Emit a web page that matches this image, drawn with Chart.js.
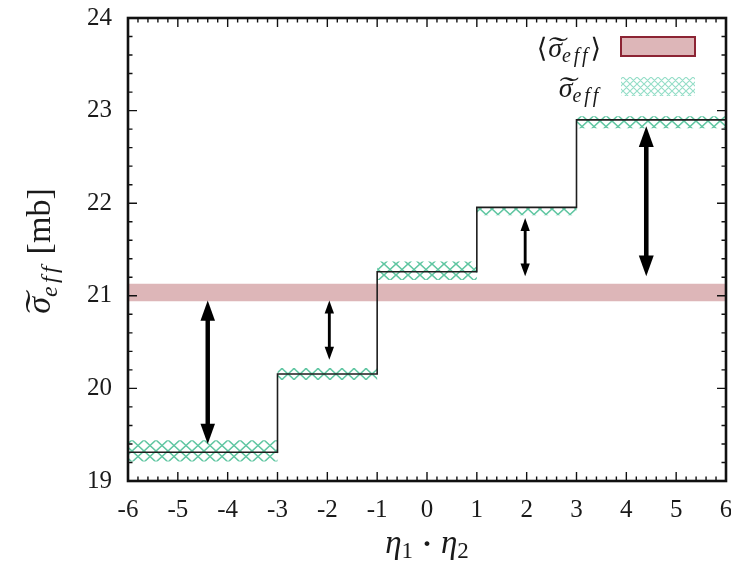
<!DOCTYPE html>
<html>
<head>
<meta charset="utf-8">
<script src="https://cdn.jsdelivr.net/npm/chart.js@4/dist/chart.umd.min.js"></script>
<style>
  html, body { margin: 0; padding: 0; background: #ffffff; }
  canvas { display: block; }
</style>
</head>
<body>
<canvas id="c" width="731" height="567"></canvas>
<script>
// Bin edges in eta1*eta2 and the effective cross-section per bin (mb)
const binEdges = [-6, -3, -1, 1, 3, 6];
const sigmaEff = [19.31, 20.155, 21.26, 21.955, 22.90];
const sigmaEffHigh = [19.44, 20.22, 21.37, 21.96, 22.94];
const sigmaEffLow = [19.21, 20.09, 21.17, 21.87, 22.81];

// Band of the averaged value <sigma_eff>
const meanBandLow = 20.94;
const meanBandHigh = 21.13;

// Double-headed arrows: x position, upper and lower ends
const arrowX = [-4.4, -1.96, 1.97, 4.4];
const arrowTop = [20.95, 20.95, 21.84, 22.83];
const arrowBottom = [19.40, 20.31, 21.21, 21.21];

// Tick labels
const xTicks = [-6, -5, -4, -3, -2, -1, 0, 1, 2, 3, 4, 5, 6];
const yTicks = [19, 20, 21, 22, 23, 24];

const SERIF = "'Liberation Serif', 'DejaVu Serif', serif";
const GREEN = 'rgb(96, 198, 162)';
const PALEGREEN = 'rgb(150, 222, 200)';
const PINK = 'rgb(221, 182, 184)';
const DARKRED = 'rgb(140, 36, 52)';

// step series: each value holds from its edge to the next edge
function steps(vals) {
  return binEdges.map((x, i) => ({ x: x, y: vals[Math.min(i, vals.length - 1)] }));
}

function makeHatch(ctx, w, h, color, lw) {
  const p = document.createElement('canvas');
  p.width = w; p.height = h;
  const g = p.getContext('2d');
  g.strokeStyle = color;
  g.lineWidth = lw;
  g.beginPath();
  g.moveTo(0, 0); g.lineTo(w / 2, h / 2); g.lineTo(w, 0);
  g.moveTo(0, h); g.lineTo(w / 2, h / 2); g.lineTo(w, h);
  g.stroke();
  return ctx.createPattern(p, 'repeat');
}

const canvas = document.getElementById('c');
const ctx0 = canvas.getContext('2d');
const hatch = makeHatch(ctx0, 12, 11, GREEN, 1.6);
const legendHatch = makeHatch(ctx0, 7, 7, PALEGREEN, 1.1);

// Draws a sequence of text pieces (main / subscript / tilde accent) on one baseline
function runWidth(ctx, parts) {
  let w = 0;
  for (const p of parts) {
    ctx.font = p.font;
    w += ctx.measureText(p.t).width + (p.sp || 0) * p.t.length + (p.gap || 0);
  }
  return w;
}
function drawRun(ctx, parts, x, y, align) {
  const total = runWidth(ctx, parts);
  let cx = align === 'center' ? x - total / 2 : align === 'right' ? x - total : x;
  ctx.textBaseline = 'alphabetic';
  ctx.textAlign = 'left';
  for (const p of parts) {
    ctx.font = p.font;
    const dy = p.dy || 0;
    const w0 = ctx.measureText(p.t).width;
    if (p.sp) {
      for (const ch of p.t) {
        ctx.fillText(ch, cx, y + dy);
        cx += ctx.measureText(ch).width + p.sp;
      }
    } else {
      ctx.fillText(p.t, cx, y + dy);
      if (p.tilde) {
        ctx.save();
        ctx.translate(cx + w0 / 2, y + dy + (p.tildeDy || 0));
        ctx.scale(p.tildeScale || 1.8, 1);
        ctx.textAlign = 'center';
        ctx.fillText('\u02DC', 0, 0);
        ctx.restore();
      }
      cx += w0;
    }
    cx += (p.gap || 0);
  }
}

function sigmaParts(size, subSize, subDy) {
  return [
    { t: '\u03C3', font: `italic ${size}px ${SERIF}`, tilde: true, tildeDy: -size * 0.02, tildeScale: 2.0 },
    { t: 'eff', font: `italic ${subSize}px ${SERIF}`, dy: subDy, sp: subSize * 0.14 }
  ];
}

const decorations = {
  id: 'decorations',
  afterDatasetsDraw(chart) {
    const { ctx, scales: { x, y } } = chart;
    ctx.save();
    ctx.fillStyle = '#000';
    for (let i = 0; i < arrowX.length; i++) {
      const px = x.getPixelForValue(arrowX[i]);
      const y1 = y.getPixelForValue(arrowTop[i]);
      const y2 = y.getPixelForValue(arrowBottom[i]);
      const len = y2 - y1;
      const head = 8 + len * 0.085;
      const hw = head * 0.36;
      const shaft = Math.max(2.6, head * 0.22);
      ctx.fillRect(px - shaft / 2, y1 + head * 0.8, shaft, len - head * 1.6);
      ctx.beginPath();
      ctx.moveTo(px, y1); ctx.lineTo(px - hw, y1 + head); ctx.lineTo(px + hw, y1 + head);
      ctx.closePath(); ctx.fill();
      ctx.beginPath();
      ctx.moveTo(px, y2); ctx.lineTo(px - hw, y2 - head); ctx.lineTo(px + hw, y2 - head);
      ctx.closePath(); ctx.fill();
    }
    ctx.restore();
  },
  afterDraw(chart) {
    const { ctx, chartArea: a, scales: { x, y } } = chart;
    ctx.save();
    ctx.strokeStyle = '#111';
    // inward ticks on all four sides, minor ticks every 0.2
    ctx.lineWidth = 1.4;
    ctx.beginPath();
    for (let k = 0; k <= (x.max - x.min) * 5; k++) {
      const v = x.min + k * 0.2;
      const px = x.getPixelForValue(v);
      const len = (k % 5 === 0) ? 9 : 4.5;
      ctx.moveTo(px, a.bottom); ctx.lineTo(px, a.bottom - len);
      ctx.moveTo(px, a.top); ctx.lineTo(px, a.top + len);
    }
    for (let k = 0; k <= (y.max - y.min) * 5; k++) {
      const v = y.min + k * 0.2;
      const py = y.getPixelForValue(v);
      const len = (k % 5 === 0) ? 9 : 4.5;
      ctx.moveTo(a.left, py); ctx.lineTo(a.left + len, py);
      ctx.moveTo(a.right, py); ctx.lineTo(a.right - len, py);
    }
    ctx.stroke();
    // plot frame
    ctx.lineWidth = 2.6;
    ctx.strokeRect(a.left, a.top, a.right - a.left, a.bottom - a.top);

    // axis titles
    ctx.fillStyle = '#1a1a1a';
    const xParts = [
      { t: '\u03B7', font: `italic 33px ${SERIF}` },
      { t: '1', font: `23px ${SERIF}`, dy: 5, gap: 9 },
      { t: '\u00B7', font: `bold 30px ${SERIF}`, gap: 9 },
      { t: '\u03B7', font: `italic 33px ${SERIF}` },
      { t: '2', font: `23px ${SERIF}`, dy: 5 }
    ];
    drawRun(ctx, xParts, (a.left + a.right) / 2, 553, 'center');

    ctx.save();
    ctx.translate(50, 251);
    ctx.rotate(-Math.PI / 2);
    const yParts = sigmaParts(34, 24, 7).concat([
      { t: ' [mb]', font: `34px ${SERIF}` }
    ]);
    drawRun(ctx, yParts, 0, 0, 'center');
    ctx.restore();

    // legend
    const bx = 621, bw = 74, bh = 19;
    drawRun(ctx, [{ t: '\u27E8', font: `27px ${SERIF}`, gap: 1 }]
      .concat(sigmaParts(28, 20, 5))
      .concat([{ t: '\u27E9', font: `27px ${SERIF}` }]), 601, 57, 'right');
    ctx.fillStyle = PINK;
    ctx.fillRect(bx, 37, bw, bh);
    ctx.strokeStyle = DARKRED;
    ctx.lineWidth = 2;
    ctx.strokeRect(bx, 37, bw, bh);

    ctx.fillStyle = '#1a1a1a';
    drawRun(ctx, sigmaParts(28, 20, 5), 601, 97, 'right');
    ctx.fillStyle = legendHatch;
    ctx.fillRect(bx, 77, bw, bh);
    ctx.restore();
  }
};

new Chart(canvas, {
  type: 'line',
  data: {
    datasets: [
      { // sigma_eff step line
        data: steps(sigmaEff), stepped: true, borderColor: '#1e1e1e', borderWidth: 1.6,
        pointRadius: 0, fill: false, order: 0
      },
      { // uncertainty band, upper edge
        data: steps(sigmaEffHigh), stepped: true, borderColor: 'rgba(0,0,0,0)', borderWidth: 1,
        pointRadius: 0, backgroundColor: hatch, fill: '+1', order: 1
      },
      { // uncertainty band, lower edge
        data: steps(sigmaEffLow), stepped: true, borderColor: 'rgba(0,0,0,0)', borderWidth: 1,
        pointRadius: 0, fill: false, order: 1
      },
      { // <sigma_eff> band, upper edge
        data: [{ x: binEdges[0], y: meanBandHigh }, { x: binEdges[binEdges.length - 1], y: meanBandHigh }],
        borderColor: 'rgba(0,0,0,0)', borderWidth: 1, pointRadius: 0,
        backgroundColor: PINK, fill: '+1', order: 2
      },
      { // <sigma_eff> band, lower edge
        data: [{ x: binEdges[0], y: meanBandLow }, { x: binEdges[binEdges.length - 1], y: meanBandLow }],
        borderColor: 'rgba(0,0,0,0)', borderWidth: 1, pointRadius: 0, fill: false, order: 2
      }
    ]
  },
  options: {
    responsive: false,
    animation: false,
    events: [],
    layout: { padding: { top: 18, right: 5, left: 0, bottom: 0 } },
    plugins: { legend: { display: false }, tooltip: { enabled: false } },
    scales: {
      x: {
        type: 'linear', min: xTicks[0], max: xTicks[xTicks.length - 1],
        afterBuildTicks: s => { s.ticks = xTicks.map(v => ({ value: v })); },
        ticks: { autoSkip: false, maxRotation: 0, padding: 14, color: '#1a1a1a',
                 font: { family: SERIF, size: 25 }, callback: v => String(v) },
        grid: { display: false, drawTicks: false },
        border: { display: false },
        afterFit: s => { s.height = 86; s.paddingLeft = 0; s.paddingRight = 0; }
      },
      y: {
        type: 'linear', min: yTicks[0], max: yTicks[yTicks.length - 1],
        afterBuildTicks: s => { s.ticks = yTicks.map(v => ({ value: v })); },
        ticks: { autoSkip: false, padding: 16, color: '#1a1a1a',
                 font: { family: SERIF, size: 25 }, callback: v => String(v) },
        grid: { display: false, drawTicks: false },
        border: { display: false },
        afterFit: s => { s.width = 128; s.paddingTop = 0; s.paddingBottom = 0; }
      }
    }
  },
  plugins: [decorations]
});
</script>
</body>
</html>
